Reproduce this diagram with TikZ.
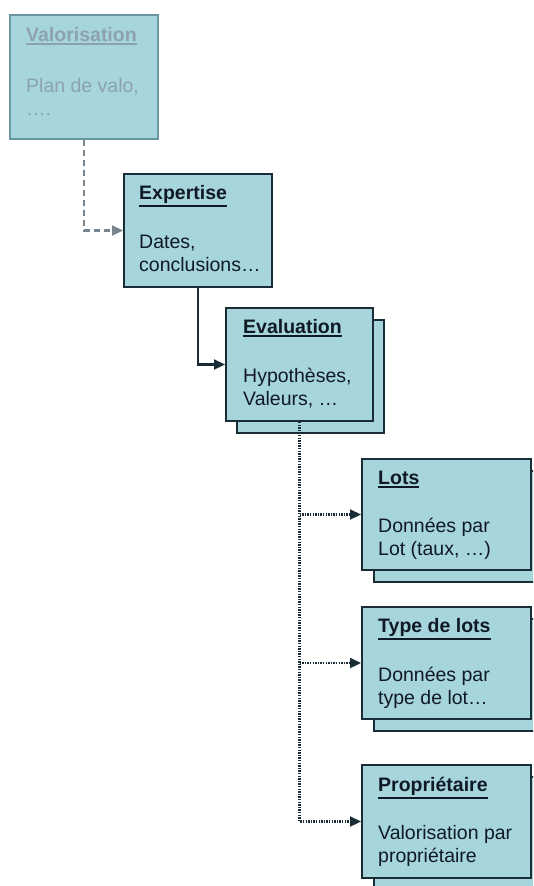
\documentclass[tikz,border=0pt]{standalone}
\usepackage{fontspec}
\setmainfont{Liberation Sans}
\usetikzlibrary{arrows.meta,calc}
\definecolor{boxfill}{RGB}{166,213,220}
\definecolor{boxline}{RGB}{26,44,54}
\definecolor{txtcol}{RGB}{16,26,36}
\definecolor{fadeline}{RGB}{105,150,162}
\definecolor{fadetxt}{RGB}{140,162,175}
\definecolor{dashgray}{RGB}{120,132,142}
\newcommand\myul[1]{\leavevmode\vtop{\hbox{#1}\kern2.2pt\hrule height 1.6pt}}
\begin{document}
\begin{tikzpicture}[x=1pt,y=-1pt,
  box/.style={draw=boxline, fill=boxfill, line width=2pt, inner sep=0pt, anchor=north west},
  fadebox/.style={box, draw=fadeline},
  ttl/.style={font=\fontsize{19.5}{23}\selectfont\bfseries, text=txtcol, inner sep=0pt, anchor=base west},
  bdy/.style={font=\fontsize{19.5}{23}\selectfont, text=txtcol, inner sep=0pt, anchor=base west},
  tip/.style={-{Triangle[length=11pt,width=10pt]}},
  conn/.style={draw=boxline, line width=2.2pt, tip},
  dashconn/.style={draw=dashgray, line width=2.2pt, dash pattern=on 6pt off 4pt, tip},
  dotconn/.style={draw=boxline, line width=2.2pt, dash pattern=on 1.4pt off 1.2pt},
  dottip/.style={dotconn, tip}
]
\useasboundingbox (0,0) rectangle (533,886);
\clip (0,0) rectangle (533,886);

% Valorisation
\node[fadebox, minimum width=148pt, minimum height=124pt] (val) at (9,14) {};
\node[ttl, text=fadetxt] (valT) at ($(val.north west)+(17,27)$) {\myul{Valorisation}};
\node[bdy, text=fadetxt] (valB) at ($(val.north west)+(17,78)$) {\parbox[t]{140pt}{\raggedright Plan de valo,\\….}};

% Expertise
\node[box, minimum width=148pt, minimum height=113pt] (exp) at (123,173) {};
\node[ttl] (expT) at ($(exp.north west)+(16,26)$) {\myul{Expertise}};
\node[bdy] (expB) at ($(exp.north west)+(16,75)$) {\parbox[t]{140pt}{\raggedright Dates,\\conclusions…}};

% Evaluation (with shadow)
\node[box, minimum width=147pt, minimum height=113pt] (evalS) at (236,319) {};
\node[box, minimum width=147pt, minimum height=113pt] (eval) at (225,307) {};
\node[ttl] (evalT) at ($(eval.north west)+(18,26)$) {\myul{Evaluation}};
\node[bdy] (evalB) at ($(eval.north west)+(18,75)$) {\parbox[t]{140pt}{\raggedright Hypothèses,\\Valeurs, …}};

% Lots
\node[box, minimum width=169pt, minimum height=111pt] (lotsS) at (373,470) {};
\node[box, minimum width=169pt, minimum height=111pt] (lots) at (361,458) {};
\node[ttl] (lotsT) at ($(lots.north west)+(17,26)$) {\myul{Lots}};
\node[bdy] (lotsB) at ($(lots.north west)+(17,74)$) {\parbox[t]{160pt}{\raggedright Données par\\Lot (taux, …)}};

% Type de lots
\node[box, minimum width=169pt, minimum height=112pt] (typS) at (373,618) {};
\node[box, minimum width=169pt, minimum height=112pt] (typ) at (361,606) {};
\node[ttl] (typT) at ($(typ.north west)+(17,26)$) {\myul{Type de lots}};
\node[bdy] (typB) at ($(typ.north west)+(17,75)$) {\parbox[t]{160pt}{\raggedright Données par\\type de lot…}};

% Proprietaire
\node[box, minimum width=169pt, minimum height=113pt] (propS) at (373,776) {};
\node[box, minimum width=169pt, minimum height=113pt] (prop) at (361,764) {};
\node[ttl] (propT) at ($(prop.north west)+(17,27)$) {\myul{Propriétaire}};
\node[bdy] (propB) at ($(prop.north west)+(17,75)$) {\parbox[t]{160pt}{\raggedright Valorisation par\\propriétaire}};

% Connectors
\draw[dashconn] (val.south) |- (exp.west);
\draw[conn] (exp.south) |- (eval.west);
\draw[dottip] (eval.south) |- (prop.west);
\coordinate (b1) at (eval.south |- lots.west);
\coordinate (b2) at (eval.south |- typ.west);
\draw[dottip] (b1) -- (lots.west);
\draw[dottip] (b2) -- (typ.west);
\end{tikzpicture}
\end{document}
